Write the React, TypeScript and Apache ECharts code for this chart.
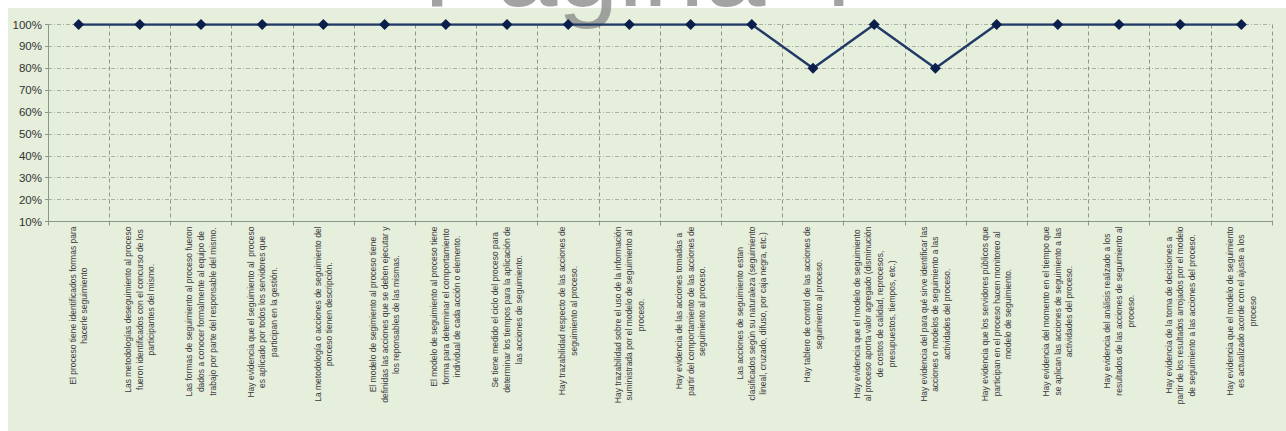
import { useEffect, useRef } from 'react';
import * as echarts from 'echarts';

const categories: string[] = [
  'El proceso tiene identificados formas para\nhacerle seguimiento',
  'Las metodologías deseguimiento al proceso\nfueron identificados con el concurso de los\nparticipantes del mismo.',
  'Las formas de seguimiento al proceso fueron\ndados a conocer formalmente al equipo de\ntrabajo por parte del responsable del mismo.',
  'Hay evidencia que el seguimiento al  proceso\nes aplicado por todos los servidores que\nparticipan en la gestión.',
  'La metodología o acciones de seguimiento del\nporceso tienen descripción.',
  'El modelo de segimiento al proceso tiene\ndefinidas las acciones que se deben ejecutar y\nlos reponsables de las mismas.',
  'El modelo de seguimiento al proceso tiene\nforma para determinar el comportamiento\nindividual de cada acción o elemento.',
  'Se tiene medido el ciclo del proceso para\ndeterminar los tiempos para la aplicación de\nlas acciones de seguimiento.',
  'Hay trazabilidad respecto de las acciones de\nseguimiento al proceso.',
  'Hay trazabilidad sobre el uso de la información\nsuministrada por el modelo de seguimiento al\nproceso.',
  'Hay evidencia de las acciones tomadas a\npartir del comportamiento de las acciones de\nseguimiento al proceso.',
  'Las acciones de seguimiento estan\nclasificados según su naturaleza (seguimiento\nlineal, cruzado, difuso, por caja negra, etc.)',
  'Hay tablero de control de las acciones de\nseguimiento al proceso.',
  'Hay evidencia que el modelo de seguimiento\nal proceso aporta valor agregado (disminución\nde costos de calidad, reprocesos,\npresupuestos, tiempos, etc.)',
  'Hay evidencia del para qué sirve identificar las\nacciones o modelos de seguimiento a las\nactividades del proceso.',
  'Hay evidencia que los servidores públicos que\nparticipan en el proceso hacen monitoreo al\nmodelo de seguimiento.',
  'Hay evidencia del momento en el tiempo que\nse aplican las acciones de seguimiento a las\nactividades del proceso.',
  'Hay evidencia del análisis realizado a los\nresultados de las acciones de seguimiento al\nproceso.',
  'Hay evidencia de la toma de decisiones a\npartir de los resultados arrojados por el modelo\nde seguimiento a las acciones del proceso.',
  'Hay evidencia que el modelo de seguimiento\nes actualizado acorde con el ajuste a los\nproceso',
];

const values: number[] = [
  100, 100, 100, 100, 100, 100, 100, 100, 100, 100,
  100, 100, 80, 100, 80, 100, 100, 100, 100, 100,
];

const yMin = 10;
const yMax = 100;
const yStep = 10;
const watermarkText = 'Página 4';

export default function App() {
  const ref = useRef<HTMLDivElement>(null);
  useEffect(() => {
    if (!ref.current) return;
    const chart = echarts.init(ref.current, null, { renderer: 'svg' });
    chart.setOption({
      animation: false,
      backgroundColor: 'transparent',
      graphic: [
        {
          type: 'rect',
          z: -100,
          shape: { x: 0, y: 8, width: 1278, height: 423 },
          style: { fill: '#E6EFDC' },
        },
        {
          type: 'text',
          z: 1,
          x: 632,
          y: -33,
          style: {
            text: watermarkText,
            fontSize: 110,
            fontFamily: 'Liberation Sans, Arial, sans-serif',
            fill: 'rgba(140,140,140,0.8)',
            textAlign: 'center',
            textVerticalAlign: 'middle',
          },
        },
      ],
      grid: { left: 40, right: 14, top: 24.5, bottom: 209.5 },
      xAxis: {
        type: 'category',
        data: categories,
        boundaryGap: true,
        axisLine: { lineStyle: { color: '#8c968a', width: 1 } },
        axisTick: { show: true, length: 4, lineStyle: { color: '#8c968a' } },
        splitLine: {
          show: true,
          lineStyle: { color: '#8f968c', type: [4, 3], width: 1 },
        },
        axisLabel: {
          interval: 0,
          rotate: 90,
          margin: 5,
          formatter: (v: string) => '{c|' + v + '}',
          rich: {
            c: {
              align: 'center',
              fontSize: 8.5,
              lineHeight: 11.7,
              fontFamily: "'Liberation Sans Narrow', 'Arial Narrow', 'Liberation Sans', Arial, sans-serif",
              color: '#3c3c3c',
            },
          },
        },
      },
      yAxis: {
        type: 'value',
        min: yMin,
        max: yMax,
        interval: yStep,
        axisLine: { show: true, lineStyle: { color: '#8c968a' } },
        axisTick: { show: true, length: 3, lineStyle: { color: '#8c968a' } },
        splitLine: {
          show: true,
          lineStyle: { color: '#a9b0a4', type: [4, 2, 1, 2], width: 1 },
        },
        axisLabel: {
          formatter: '{value}%',
          fontSize: 11.5,
          margin: 6,
          color: '#333',
          fontFamily: 'Liberation Sans, Arial, sans-serif',
        },
      },
      series: [
        {
          type: 'line',
          data: values,
          symbol: 'diamond',
          symbolSize: 11,
          lineStyle: { color: '#223a66', width: 2.5 },
          itemStyle: { color: '#0b1f4d' },
          z: 3,
        },
      ],
    });
    return () => chart.dispose();
  }, []);
  return (
    <div
      ref={ref}
      style={{ position: 'absolute', left: 8, top: 0, width: 1278, height: 431 }}
    />
  );
}
